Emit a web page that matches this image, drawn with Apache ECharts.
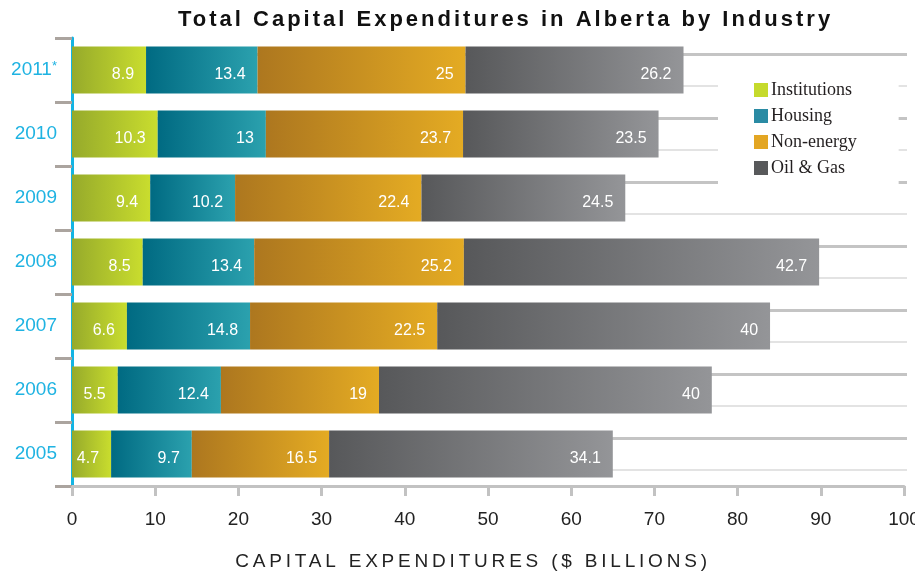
<!DOCTYPE html>
<html>
<head>
<meta charset="utf-8">
<title>Total Capital Expenditures in Alberta by Industry</title>
<script src="https://cdn.jsdelivr.net/npm/echarts@6/dist/echarts.min.js"></script>
<style>
  html, body { margin: 0; padding: 0; background: #fff; }
  #chart { width: 915px; height: 574px; }
</style>
</head>
<body>
<div id="chart"></div>
<script>
// data, bottom to top
var years = ["2005", "2006", "2007", "2008", "2009", "2010", "2011*"];
var institutions = [4.7, 5.5, 6.6, 8.5, 9.4, 10.3, 8.9];
var housing = [9.7, 12.4, 14.8, 13.4, 10.2, 13, 13.4];
var nonEnergy = [16.5, 19, 22.5, 25.2, 22.4, 23.7, 25];
var oilGas = [34.1, 40, 40, 42.7, 24.5, 23.5, 26.2];
var xTicks = [0, 10, 20, 30, 40, 50, 60, 70, 80, 90, 100];

// the title and axis name are tracked out; zrender has no letter spacing,
// so switch the canvas one on for fonts tagged with a dummy family name
var trackMap = { Tracked2: "3px", Tracked4: "3.8px" };
var origFill = CanvasRenderingContext2D.prototype.fillText;
CanvasRenderingContext2D.prototype.fillText = function (t, x, y, w) {
  var m = /Tracked\d/.exec(this.font || "");
  this.letterSpacing = m ? trackMap[m[0]] : "0px";
  return w === undefined ? origFill.call(this, t, x, y) : origFill.call(this, t, x, y, w);
};

var chart = echarts.init(document.getElementById("chart"));

function grad(from, to) {
  return new echarts.graphic.LinearGradient(0, 0, 1, 0, [
    { offset: 0, color: from },
    { offset: 1, color: to }
  ]);
}

function barSeries(name, data, from, to) {
  return {
    name: name,
    type: "bar",
    stack: "total",
    xAxisIndex: 0,
    yAxisIndex: 0,
    barWidth: 47,
    data: data,
    itemStyle: { color: grad(from, to) },
    label: {
      show: true,
      position: "insideRight",
      distance: 12,
      offset: [0, 5],
      color: "#fff",
      fontFamily: "Liberation Sans",
      fontSize: 16
    },
    z: 3
  };
}

// hidden axes that only draw the decorative rules behind the bars
function ruleAxis(idx, color, width) {
  return {
    type: "value",
    gridIndex: idx,
    min: 0,
    max: 12,
    interval: 2,
    axisLine: { show: false },
    axisTick: { show: false },
    axisLabel: { show: false },
    splitLine: { show: true, lineStyle: { color: color, width: width } }
  };
}
function hiddenX(idx) {
  return {
    type: "value",
    gridIndex: idx,
    min: 0,
    max: 100,
    axisLine: { show: false },
    axisTick: { show: false },
    axisLabel: { show: false },
    splitLine: { show: false }
  };
}

chart.setOption({
  animation: false,
  title: {
    text: "Total Capital Expenditures in Alberta by Industry",
    left: 173,
    top: 4,
    textStyle: {
      fontFamily: "'Liberation Sans', Tracked2",
      fontWeight: "bold",
      fontSize: 22,
      color: "#111"
    }
  },
  legend: {
    orient: "vertical",
    left: 718,
    top: 72,
    padding: [9, 42, 9, 36],
    backgroundColor: "#fff",
    itemWidth: 14,
    itemHeight: 14,
    itemGap: 8,
    icon: "rect",
    textStyle: {
      fontFamily: "Liberation Serif",
      fontSize: 18,
      color: "#231f20",
      padding: [0, 0, 0, -2]
    },
    data: [
      { name: "Institutions", itemStyle: { color: "#c5da2c" } },
      { name: "Housing", itemStyle: { color: "#2a8ba4" } },
      { name: "Non-energy", itemStyle: { color: "#e3a623" } },
      { name: "Oil & Gas", itemStyle: { color: "#58595b" } }
    ]
  },
  grid: [
    { left: 72, right: 11, top: 38, bottom: 88, outerBoundsMode: "none" },
    { left: 72, right: 8, top: 86, bottom: 104, outerBoundsMode: "none" },
    { left: 72, right: 8, top: 54, bottom: 136, outerBoundsMode: "none" }
  ],
  xAxis: [
    {
      type: "value",
      gridIndex: 0,
      min: 0,
      max: 100,
      interval: 10,
      axisLine: { show: true, lineStyle: { color: "#c2c2c2", width: 3 } },
      axisTick: { show: true, length: 10, lineStyle: { color: "#c2c2c2", width: 3 } },
      axisLabel: {
        margin: 24,
        fontFamily: "Liberation Sans",
        fontSize: 19,
        color: "#222",
        formatter: function (v) { return xTicks.indexOf(v) >= 0 ? String(v) : ""; }
      },
      splitLine: { show: false },
      name: "CAPITAL EXPENDITURES ($ BILLIONS)",
      nameLocation: "middle",
      nameGap: 66,
      nameTextStyle: {
        fontFamily: "'Liberation Sans', Tracked4",
        fontSize: 19,
        color: "#222",
        padding: [0, 30, 0, 0]
      }
    },
    hiddenX(1),
    hiddenX(2)
  ],
  yAxis: [
    {
      type: "category",
      gridIndex: 0,
      data: years,
      axisLine: { show: true, lineStyle: { color: "#13b4e3", width: 3 } },
      axisTick: { show: true, length: 17, lineStyle: { color: "#aba49f", width: 3 } },
      axisLabel: {
        margin: 15,
        fontFamily: "Liberation Sans",
        fontSize: 19,
        color: "#1fb3e2",
        formatter: function (v) {
          if (v.indexOf("*") > 0) return v.replace("*", "") + "{s|*}";
          return v;
        },
        rich: {
          s: { fontSize: 13, color: "#1fb3e2", verticalAlign: "top", padding: [0, 0, 8, 0] }
        }
      },
      splitLine: { show: false }
    },
    ruleAxis(1, "#e3e3e3", 2),
    ruleAxis(2, "#c4c4c4", 3)
  ],
  series: [
    barSeries("Institutions", institutions, "#96aa2b", "#c9dd2e"),
    barSeries("Housing", housing, "#006a82", "#2ba1ae"),
    barSeries("Non-energy", nonEnergy, "#ad771f", "#e4ab23"),
    barSeries("Oil & Gas", oilGas, "#57585a", "#949598")
  ]
});
</script>
</body>
</html>
